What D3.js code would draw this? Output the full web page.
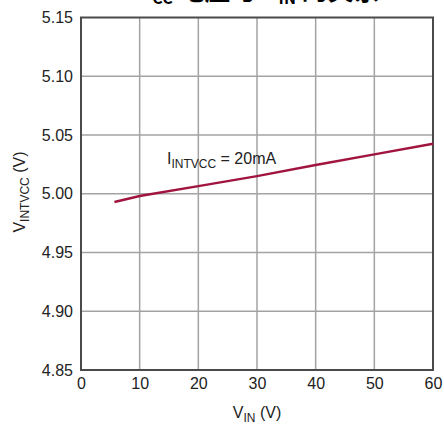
<!DOCTYPE html>
<html>
<head>
<meta charset="utf-8">
<script src="https://cdn.jsdelivr.net/npm/d3@7"></script>
<style>
  body { margin: 0; background: #fff; }
  svg { display: block; }
  text { font-family: "Liberation Sans", Arial, sans-serif; fill: #222; }
</style>
</head>
<body>
<svg width="444" height="424"></svg>
<script>
// values
var vin = [5.7, 10, 20, 30, 40, 50, 60];
var vintvcc = [4.993, 4.998, 5.0065, 5.015, 5.0245, 5.0335, 5.0425];
var xTicks = [0, 10, 20, 30, 40, 50, 60];
var yTicks = [4.85, 4.90, 4.95, 5.00, 5.05, 5.10, 5.15];

var svg = d3.select("svg"),
    plotLeft = 81, plotRight = 433, plotTop = 17.5, plotBottom = 370;

var x = d3.scaleLinear().domain([0, 60]).range([plotLeft, plotRight]);
var y = d3.scaleLinear().domain([4.85, 5.15]).range([plotBottom, plotTop]);

// title, mostly cut off at the top edge as in the source image
var title = svg.append("text")
    .attr("x", 258).attr("y", 0)
    .attr("text-anchor", "middle")
    .style("font-family", "'Noto Sans CJK SC', sans-serif")
    .style("font-weight", "bold")
    .style("font-size", "26px")
    .style("fill", "#000");
title.append("tspan").text("V");
title.append("tspan").attr("dy", 4).style("font-size", "16px").text("CC");
title.append("tspan").attr("dy", -4).text(" 电压与 V");
title.append("tspan").attr("dy", 4).style("font-size", "16px").text("IN");
title.append("tspan").attr("dy", -4).text(" 的关系");

// grid
var grid = svg.append("g").attr("stroke", "#a3a3a3").attr("stroke-width", 1.5);
grid.selectAll(".vg").data(xTicks.slice(1, -1)).enter().append("line")
    .attr("x1", function(d) { return x(d); }).attr("x2", function(d) { return x(d); })
    .attr("y1", plotTop).attr("y2", plotBottom);
grid.selectAll(".hg").data(yTicks.slice(1, -1)).enter().append("line")
    .attr("y1", function(d) { return y(d); }).attr("y2", function(d) { return y(d); })
    .attr("x1", plotLeft).attr("x2", plotRight);

// axes, used for the tick labels only
var xAxis = svg.append("g")
    .attr("transform", "translate(0," + plotBottom + ")")
    .call(d3.axisBottom(x).tickValues(xTicks).tickSize(0).tickPadding(8).tickFormat(d3.format("d")));
var yAxis = svg.append("g")
    .attr("transform", "translate(" + plotLeft + ",0)")
    .call(d3.axisLeft(y).tickValues(yTicks).tickSize(0).tickPadding(8).tickFormat(d3.format(".2f")));
[xAxis, yAxis].forEach(function(a) {
    a.select(".domain").remove();
    a.selectAll("text")
        .style("font-size", "16px")
        .style("font-family", "'Liberation Sans', Arial, sans-serif")
        .attr("fill", "#222");
});

// frame
svg.append("rect")
    .attr("x", plotLeft).attr("y", plotTop)
    .attr("width", plotRight - plotLeft).attr("height", plotBottom - plotTop)
    .attr("fill", "none").attr("stroke", "#4a4a4a").attr("stroke-width", 2);

// curve
var line = d3.line()
    .x(function(d, i) { return x(vin[i]); })
    .y(function(d) { return y(d); });
svg.append("path")
    .datum(vintvcc)
    .attr("d", line)
    .attr("fill", "none")
    .attr("stroke", "#a0143f")
    .attr("stroke-width", 2.5);

// annotation
var ann = svg.append("text").attr("x", 167).attr("y", 164).style("font-size", "16px");
ann.append("tspan").text("I");
ann.append("tspan").attr("dy", 4).style("font-size", "12px").text("INTVCC");
ann.append("tspan").attr("dy", -4).text(" = 20mA");

// axis titles
var xt = svg.append("text").attr("x", 257).attr("y", 418).attr("text-anchor", "middle").style("font-size", "16px");
xt.append("tspan").text("V");
xt.append("tspan").attr("dy", 4).style("font-size", "12px").text("IN");
xt.append("tspan").attr("dy", -4).text(" (V)");

var yt = svg.append("text")
    .attr("transform", "translate(25,192) rotate(-90)")
    .attr("text-anchor", "middle").style("font-size", "16px");
yt.append("tspan").text("V");
yt.append("tspan").attr("dy", 4).style("font-size", "12px").text("INTVCC");
yt.append("tspan").attr("dy", -4).text(" (V)");
</script>
</body>
</html>
